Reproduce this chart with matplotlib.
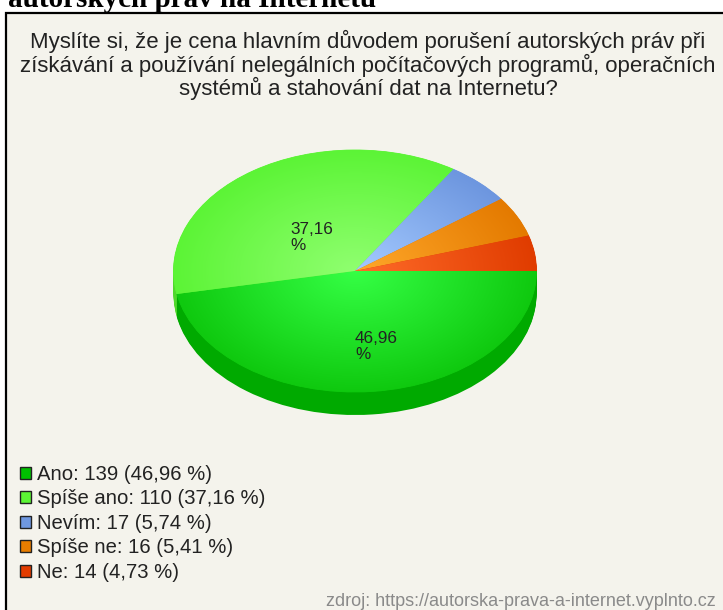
import numpy as np
import matplotlib
matplotlib.use("Agg")
import matplotlib.pyplot as plt
from matplotlib.colors import LinearSegmentedColormap
from matplotlib.patches import Rectangle, Patch

# Data
labels = ["Ano", "Spíše ano", "Nevím", "Spíše ne", "Ne"]
counts = [139, 110, 17, 16, 14]
percents = [46.96, 37.16, 5.74, 5.41, 4.73]
slice_labels = ["46,96\n%", "37,16\n%"]

# Colours
BG = "#f4f3ec"
key_colors = ["#00c000", "#5cf535", "#6f98e0", "#e87d00", "#e23c00"]
inner_colors = ["#35ff45", "#90ff70", "#a4caff", "#ffa82a", "#ff6c2a"]
outer_colors = ["#0fc90f", "#5cf436", "#6d96df", "#e47a00", "#e03c00"]
rim_colors = ["#00aa00", "#4fd82c", "#5a80c4", "#c86a00", "#c43400"]

W, H = 723, 610
RX, RY = 181.5, 121
CX, CY = 355, 271
DEPTH = 23 / RY

fig = plt.figure(figsize=(W / 100, H / 100), dpi=100, facecolor="white")

# page layer in pixel coordinates
page = fig.add_axes([0, 0, 1, 1])
page.set_xlim(0, W)
page.set_ylim(H, 0)
page.axis("off")
page.add_patch(Rectangle((5.5, 12.5), W, H, facecolor=BG, edgecolor="black", lw=1.6))

page.text(8, 7, "autorských práv na Internetu", family="Liberation Serif",
          fontweight="bold", fontsize=21, color="black", ha="left", va="baseline")

question = ("Myslíte si, že je cena hlavním důvodem porušení autorských práv při\n"
            "získávání a používání nelegálních počítačových programů, operačních\n"
            "systémů a stahování dat na Internetu?")
page.text(368, 30, question, family="Liberation Sans", fontsize=16, color="#222222",
          ha="center", va="top", linespacing=1.03)

page.text(716, 606, "zdroj: https://autorska-prava-a-internet.vyplnto.cz",
          family="Liberation Sans", fontsize=13, color="#8a8a8a", ha="right", va="baseline")

# pie layer: x and y are scaled separately to get the tilted ellipse
ax = fig.add_axes([(CX - RX) / W, 1 - (CY + RY * (1 + 2 * DEPTH)) / H,
                   2 * RX / W, RY * (2 + 2 * DEPTH) / H])
ax.patch.set_alpha(0)

# side of the pie, stacked from the bottom upward
for off in np.linspace(DEPTH, 0.005, 24):
    rim, _ = ax.pie(counts, startangle=0, counterclock=False, colors=rim_colors,
                    center=(0, -off), radius=1.0)
    for w in rim:
        w.set_zorder(1)

top, _ = ax.pie(counts, startangle=0, counterclock=False, colors=outer_colors, radius=1.0)

# radial shading of the top face
xx, yy = np.meshgrid(np.linspace(-1, 1, 500), np.linspace(-1, 1, 500))
shade = np.clip(np.hypot(xx, yy), 0, 1)
for wedge, c_in, c_out in zip(top, inner_colors, outer_colors):
    wedge.set_zorder(2)
    wedge.set_linewidth(0.6)
    wedge.set_edgecolor(c_out)
    cmap = LinearSegmentedColormap.from_list("s", [c_in, c_out])
    im = ax.imshow(shade, extent=(-1, 1, -1, 1), origin="lower", cmap=cmap, vmin=0, vmax=1,
                   zorder=3, aspect="auto", interpolation="bilinear")
    im.set_clip_path(wedge)

ax.set_aspect("auto")
ax.set_xlim(-1, 1)
ax.set_ylim(-1 - 2 * DEPTH, 1)
ax.axis("off")

# overlay for the text sitting on top of the pie
overlay = fig.add_axes([0, 0, 1, 1])
overlay.set_xlim(0, W)
overlay.set_ylim(H, 0)
overlay.axis("off")

label_pos = [(355, 331), (290, 222)]
for (px, py), txt in zip(label_pos, slice_labels):
    overlay.text(px, py, txt, family="Liberation Sans", fontsize=12.3, color="#222222",
                 ha="left", va="top", linespacing=1.12)

# legend
handles = [Patch(facecolor=c, edgecolor="#222222", lw=1) for c in key_colors]
texts = [f"{l}: {n} ({str(p).replace('.', ',')} %)" for l, n, p in zip(labels, counts, percents)]
overlay.legend(handles, texts, loc="upper left", bbox_to_anchor=(20 / W, 1 - 465 / H),
               bbox_transform=fig.transFigure, frameon=False, borderpad=0, borderaxespad=0,
               handlelength=0.55, handleheight=0.55, handletextpad=0.28, labelspacing=0.27,
               prop={"family": "Liberation Sans", "size": 14.6}, labelcolor="#222222")

fig.savefig("out.png", dpi=100)
